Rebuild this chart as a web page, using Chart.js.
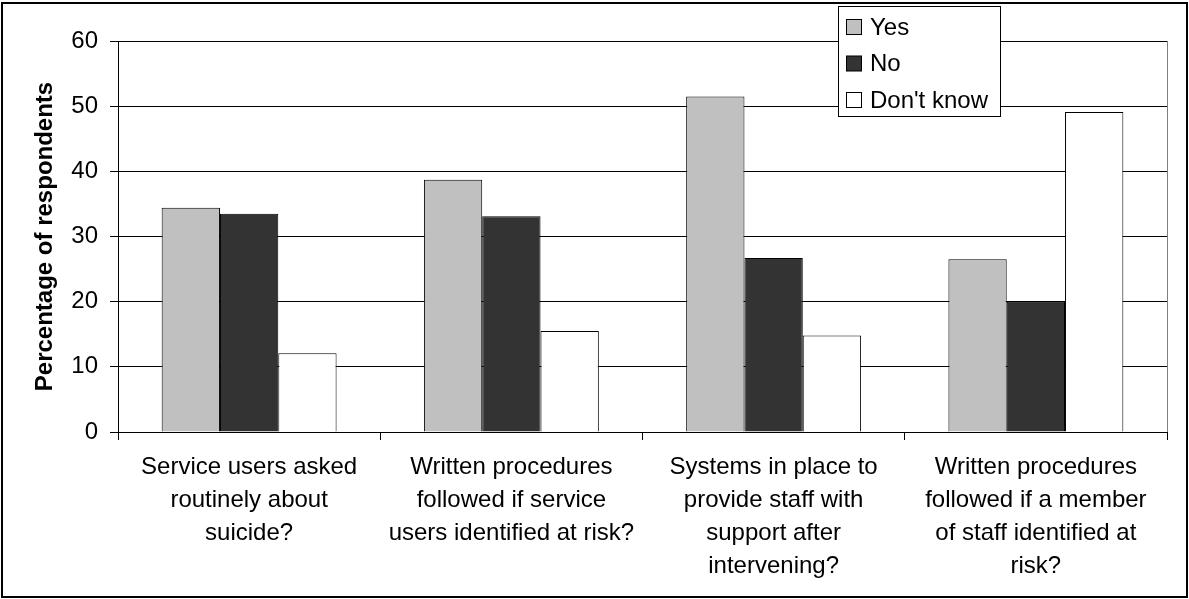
<!DOCTYPE html>
<html>
<head>
<meta charset="utf-8">
<script src="https://cdn.jsdelivr.net/npm/chart.js@4/dist/chart.umd.min.js"></script>
<style>
  html, body { margin: 0; padding: 0; background: #fff; }
  #wrap { width: 1189px; height: 599px; }
</style>
</head>
<body>
<div id="wrap"><canvas id="c" width="1189" height="599"></canvas></div>
<script>
// Survey questions (category axis), one array of lines per label
const categories = [
  ["Service users asked", "routinely about", "suicide?"],
  ["Written procedures", "followed if service", "users identified at risk?"],
  ["Systems in place to", "provide staff with", "support after", "intervening?"],
  ["Written procedures", "followed if a member", "of staff identified at", "risk?"]
];

// Percentage of respondents per answer
const yesValues     = [34.4, 38.7, 51.5, 26.5];
const noValues      = [33.5, 33.1, 26.7, 20.0];
const dontKnowValues = [12.1, 15.5, 14.8, 49.1];

const seriesNames = ["Yes", "No", "Don't know"];
const yTicks = [0, 10, 20, 30, 40, 50, 60];
const yTitle = "Percentage of respondents";

const FONT = "'Liberation Sans', Arial, Helvetica, sans-serif";

// Outer chart frame, plot-area right edge and the boxed legend
const framePlugin = {
  id: 'frame',
  beforeDraw(chart) {
    const ctx = chart.ctx;
    ctx.save();
    ctx.fillStyle = '#fff';
    ctx.fillRect(0, 0, chart.width, chart.height);
    ctx.restore();
  },
  afterDatasetsDraw(chart) {
    const ctx = chart.ctx;
    const a = chart.chartArea;
    ctx.save();
    // right edge of the plot area
    ctx.strokeStyle = '#808080';
    ctx.lineWidth = 1;
    ctx.beginPath();
    ctx.moveTo(Math.round(a.right) + 0.5, Math.round(a.top));
    ctx.lineTo(Math.round(a.right) + 0.5, Math.round(a.bottom));
    ctx.stroke();

    // outer frame
    ctx.strokeStyle = '#000';
    ctx.lineWidth = 2;
    ctx.strokeRect(2, 3, 1185, 594);

    // legend
    const lx = 838.5, ly = 6.5, lw = 162, lh = 110;
    ctx.fillStyle = '#fff';
    ctx.fillRect(lx, ly, lw, lh);
    ctx.strokeStyle = '#000';
    ctx.lineWidth = 1;
    ctx.strokeRect(lx, ly, lw, lh);
    ctx.font = '24px ' + FONT;
    ctx.textBaseline = 'middle';
    ctx.textAlign = 'left';
    chart.data.datasets.forEach((ds, i) => {
      const cy = 27 + i * 36.5;
      ctx.fillStyle = ds.backgroundColor;
      ctx.fillRect(846.5, cy - 7.5, 15, 15);
      ctx.strokeStyle = '#000';
      ctx.strokeRect(846.5, cy - 7.5, 15, 15);
      ctx.fillStyle = '#000';
      ctx.fillText(ds.label, 870, cy + 1);
    });
    ctx.restore();
  }
};

new Chart(document.getElementById('c'), {
  type: 'bar',
  data: {
    labels: categories,
    datasets: [
      { label: seriesNames[0], data: yesValues, backgroundColor: '#C0C0C0' },
      { label: seriesNames[1], data: noValues, backgroundColor: '#333333' },
      { label: seriesNames[2], data: dontKnowValues, backgroundColor: '#FFFFFF' }
    ]
  },
  options: {
    responsive: false,
    animation: false,
    devicePixelRatio: 1,
    layout: { padding: { top: 41, right: 22, left: 27, bottom: 0 } },
    datasets: {
      bar: {
        borderColor: '#000',
        borderWidth: 1,
        categoryPercentage: 0.667,
        barPercentage: 1.0
      }
    },
    plugins: {
      legend: { display: false },
      tooltip: { enabled: false },
      title: { display: false }
    },
    scales: {
      x: {
        grid: {
          display: true,
          drawOnChartArea: false,
          drawTicks: true,
          tickLength: 8,
          color: '#000',
          offset: true
        },
        border: { display: true, color: '#000', width: 1 },
        ticks: {
          color: '#000',
          font: { family: FONT, size: 24, lineHeight: 1.375 },
          padding: 11,
          maxRotation: 0,
          autoSkip: false
        },
        afterFit(scale) { scale.height = 167; }
      },
      y: {
        min: 0,
        max: 60,
        afterBuildTicks(scale) { scale.ticks = yTicks.map(v => ({ value: v })); },
        grid: {
          color: '#000',
          lineWidth: 1,
          drawTicks: true,
          tickLength: 8
        },
        border: { display: true, color: '#000', width: 1 },
        ticks: {
          color: '#000',
          font: { family: FONT, size: 24 },
          padding: 12
        },
        title: {
          display: true,
          text: yTitle,
          color: '#000',
          font: { family: FONT, size: 24, weight: 'bold' },
          padding: { top: 4, bottom: 4 }
        },
        afterFit(scale) { scale.width = 91; }
      }
    }
  },
  plugins: [framePlugin]
});
</script>
</body>
</html>
